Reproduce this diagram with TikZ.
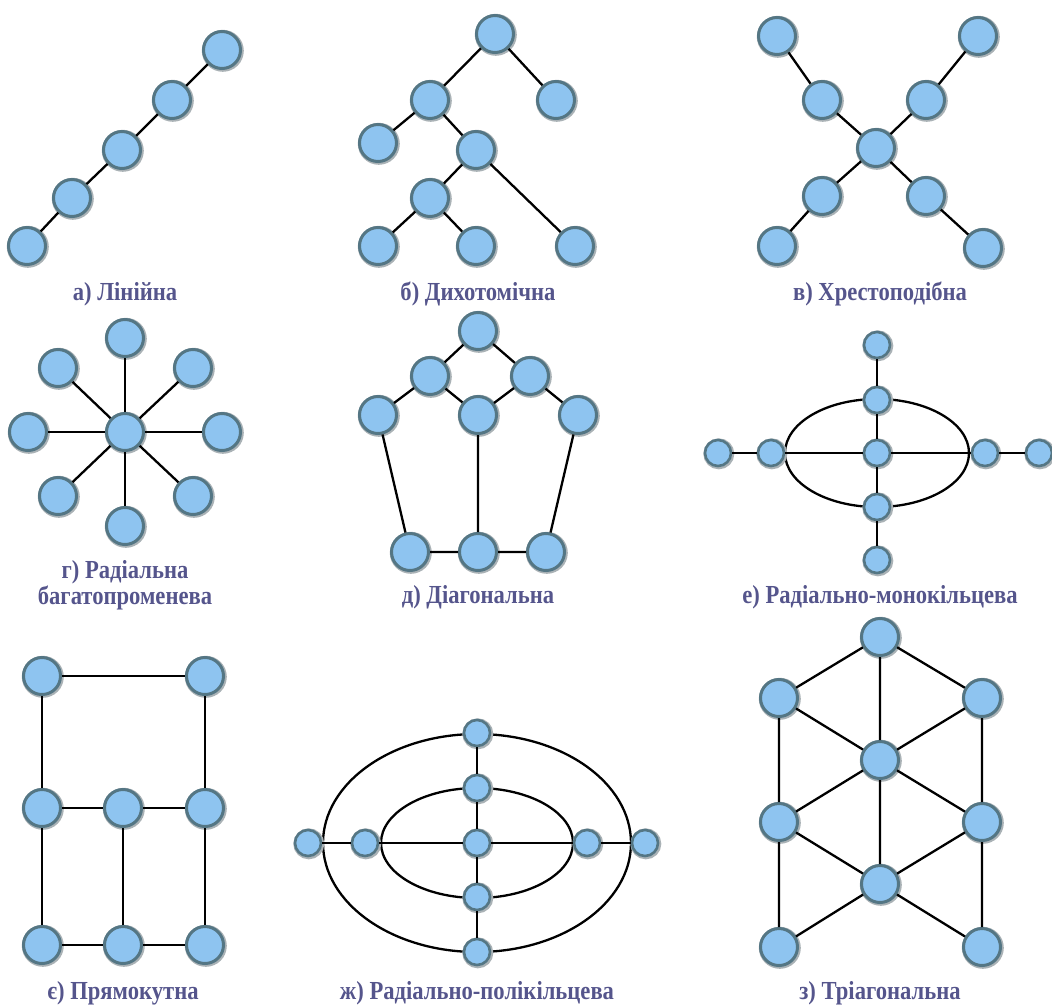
\documentclass[tikz,border=0pt]{standalone}
\usepackage{fontspec}
\setmainfont{Liberation Serif}
\usetikzlibrary{backgrounds}
\definecolor{nodefill}{RGB}{142,196,240}
\definecolor{noderim}{RGB}{84,118,132}
\definecolor{halo}{RGB}{170,178,182}
\definecolor{labelcol}{RGB}{85,85,140}
\tikzset{
  nd/.style={circle,fill=nodefill,draw=noderim,line width=3pt,minimum size=37pt,inner sep=0pt,
    preaction={draw=halo,line width=5pt,transform canvas={xshift=0.8pt,yshift=-0.8pt}}},
  sn/.style={nd,minimum size=26pt,line width=2.6pt},
  ed/.style={line width=2.3pt,black},
  lab/.style={font=\bfseries\fontsize{26}{27}\selectfont,text=labelcol,align=center,inner sep=0pt}
}
\newcommand{\cnd}[1]{\scalebox{0.87}[1]{#1}}
\begin{document}
\begin{tikzpicture}[x=1pt,y=-1pt]
\useasboundingbox (0,0) rectangle (1052,1005);
% a) linear
\node[nd] (a1) at (27,246) {};
\node[nd] (a2) at (72,198) {};
\node[nd] (a3) at (122,150) {};
\node[nd] (a4) at (172,100) {};
\node[nd] (a5) at (222,50) {};
\draw[ed] (a1)--(a2) (a2)--(a3) (a3)--(a4) (a4)--(a5);
\node[lab] (la) at (125,294) {\cnd{а) Лінійна}};
% b) dichotomic
\node[nd] (b1) at (495,34) {};
\node[nd] (b2) at (430,100) {};
\node[nd] (b3) at (556,100) {};
\node[nd] (b4) at (378,143) {};
\node[nd] (b5) at (476,150) {};
\node[nd] (b6) at (430,198) {};
\node[nd] (b7) at (378,246) {};
\node[nd] (b8) at (476,246) {};
\node[nd] (b9) at (575,246) {};
\draw[ed] (b1)--(b2) (b1)--(b3) (b2)--(b4) (b2)--(b5) (b5)--(b6) (b5)--(b9) (b6)--(b7) (b6)--(b8);
\node[lab] (lb) at (478,294) {\cnd{б) Дихотомічна}};
% c) cross
\node[nd] (c0) at (876,148) {};
\node[nd] (c1) at (822,100) {};
\node[nd] (c2) at (926,100) {};
\node[nd] (c3) at (822,196) {};
\node[nd] (c4) at (926,196) {};
\node[nd] (c5) at (777,36) {};
\node[nd] (c6) at (978,36) {};
\node[nd] (c7) at (777,246) {};
\node[nd] (c8) at (983,248) {};
\draw[ed] (c0)--(c1) (c0)--(c2) (c0)--(c3) (c0)--(c4) (c1)--(c5) (c2)--(c6) (c3)--(c7) (c4)--(c8);
\node[lab] (lc) at (880,294) {\cnd{в) Хрестоподібна}};
% d) radial star
\node[nd] (d0) at (125,432) {};
\node[nd] (d1) at (125,338) {};
\node[nd] (d2) at (58,368) {};
\node[nd] (d3) at (193,368) {};
\node[nd] (d4) at (28,432) {};
\node[nd] (d5) at (222,432) {};
\node[nd] (d6) at (58,496) {};
\node[nd] (d7) at (193,496) {};
\node[nd] (d8) at (125,526) {};
\foreach \i in {1,...,8} {\draw[ed] (d0)--(d\i);}
\node[lab] (ld) at (125,586) {\cnd{\begin{tabular}{@{}c@{}}г) Радіальна\\[-1pt]багатопроменева\end{tabular}}};
% e) diagonal
\node[nd] (e1) at (478,331) {};
\node[nd] (e2) at (430,376) {};
\node[nd] (e3) at (530,376) {};
\node[nd] (e4) at (378,415) {};
\node[nd] (e5) at (478,415) {};
\node[nd] (e6) at (578,415) {};
\node[nd] (e7) at (410,552) {};
\node[nd] (e8) at (478,552) {};
\node[nd] (e9) at (546,552) {};
\draw[ed] (e1)--(e2) (e1)--(e3) (e2)--(e4) (e2)--(e5) (e3)--(e5) (e3)--(e6)
  (e4)--(e7) (e6)--(e9) (e5)--(e8) (e7)--(e8) (e8)--(e9);
\node[lab] (le) at (478,597) {\cnd{д) Діагональна}};
% f) radial monoring
\begin{scope}[on background layer]
\draw[ed] (877,453) ellipse [x radius=92, y radius=54];
\end{scope}
\node[sn] (f0) at (877,453) {};
\node[sn] (f1) at (877,345) {};
\node[sn] (f2) at (877,400) {};
\node[sn] (f3) at (877,507) {};
\node[sn] (f4) at (877,560) {};
\node[sn] (f5) at (718,453) {};
\node[sn] (f6) at (771,453) {};
\node[sn] (f7) at (985,453) {};
\node[sn] (f8) at (1039,453) {};
\draw[ed] (f1)--(f2) (f2)--(f0) (f0)--(f3) (f3)--(f4) (f5)--(f6) (f6)--(f0) (f0)--(f7) (f7)--(f8);
\node[lab] (lf) at (880,597) {\cnd{е) Радіально-монокільцева}};
% g) rectangular
\node[nd] (g1) at (42,676) {};
\node[nd] (g2) at (205,676) {};
\node[nd] (g3) at (42,808) {};
\node[nd] (g4) at (123,808) {};
\node[nd] (g5) at (205,808) {};
\node[nd] (g6) at (42,945) {};
\node[nd] (g7) at (123,945) {};
\node[nd] (g8) at (205,945) {};
\draw[ed] (g1)--(g2) (g1)--(g3) (g3)--(g6) (g2)--(g5) (g5)--(g8) (g3)--(g4) (g4)--(g5)
  (g6)--(g7) (g7)--(g8) (g4)--(g7);
\node[lab] (lg) at (123,993) {\cnd{є) Прямокутна}};
% h) radial polyring
\begin{scope}[on background layer]
\draw[ed] (477,843) ellipse [x radius=154, y radius=109];
\draw[ed] (477,843) ellipse [x radius=96, y radius=55];
\end{scope}
\node[sn] (h0) at (477,843) {};
\node[sn] (h1) at (477,733) {};
\node[sn] (h2) at (477,788) {};
\node[sn] (h3) at (477,897) {};
\node[sn] (h4) at (477,952) {};
\node[sn] (h5) at (308,843) {};
\node[sn] (h6) at (365,843) {};
\node[sn] (h7) at (587,843) {};
\node[sn] (h8) at (645,843) {};
\draw[ed] (h1)--(h2) (h2)--(h0) (h0)--(h3) (h3)--(h4) (h5)--(h6) (h6)--(h0) (h0)--(h7) (h7)--(h8);
\node[lab] (lh) at (477,993) {\cnd{ж) Радіально-полікільцева}};
% i) triagonal
\node[nd] (i1) at (880,637) {};
\node[nd] (i2) at (779,698) {};
\node[nd] (i3) at (982,698) {};
\node[nd] (i4) at (880,760) {};
\node[nd] (i5) at (779,822) {};
\node[nd] (i6) at (982,822) {};
\node[nd] (i7) at (880,884) {};
\node[nd] (i8) at (779,947) {};
\node[nd] (i9) at (982,947) {};
\draw[ed] (i1)--(i2) (i1)--(i3) (i1)--(i4) (i2)--(i4) (i3)--(i4) (i2)--(i5) (i3)--(i6)
  (i4)--(i5) (i4)--(i6) (i4)--(i7) (i5)--(i7) (i6)--(i7) (i5)--(i8) (i6)--(i9) (i7)--(i8) (i7)--(i9);
\node[lab] (li) at (880,993) {\cnd{з) Тріагональна}};
\end{tikzpicture}
\end{document}
